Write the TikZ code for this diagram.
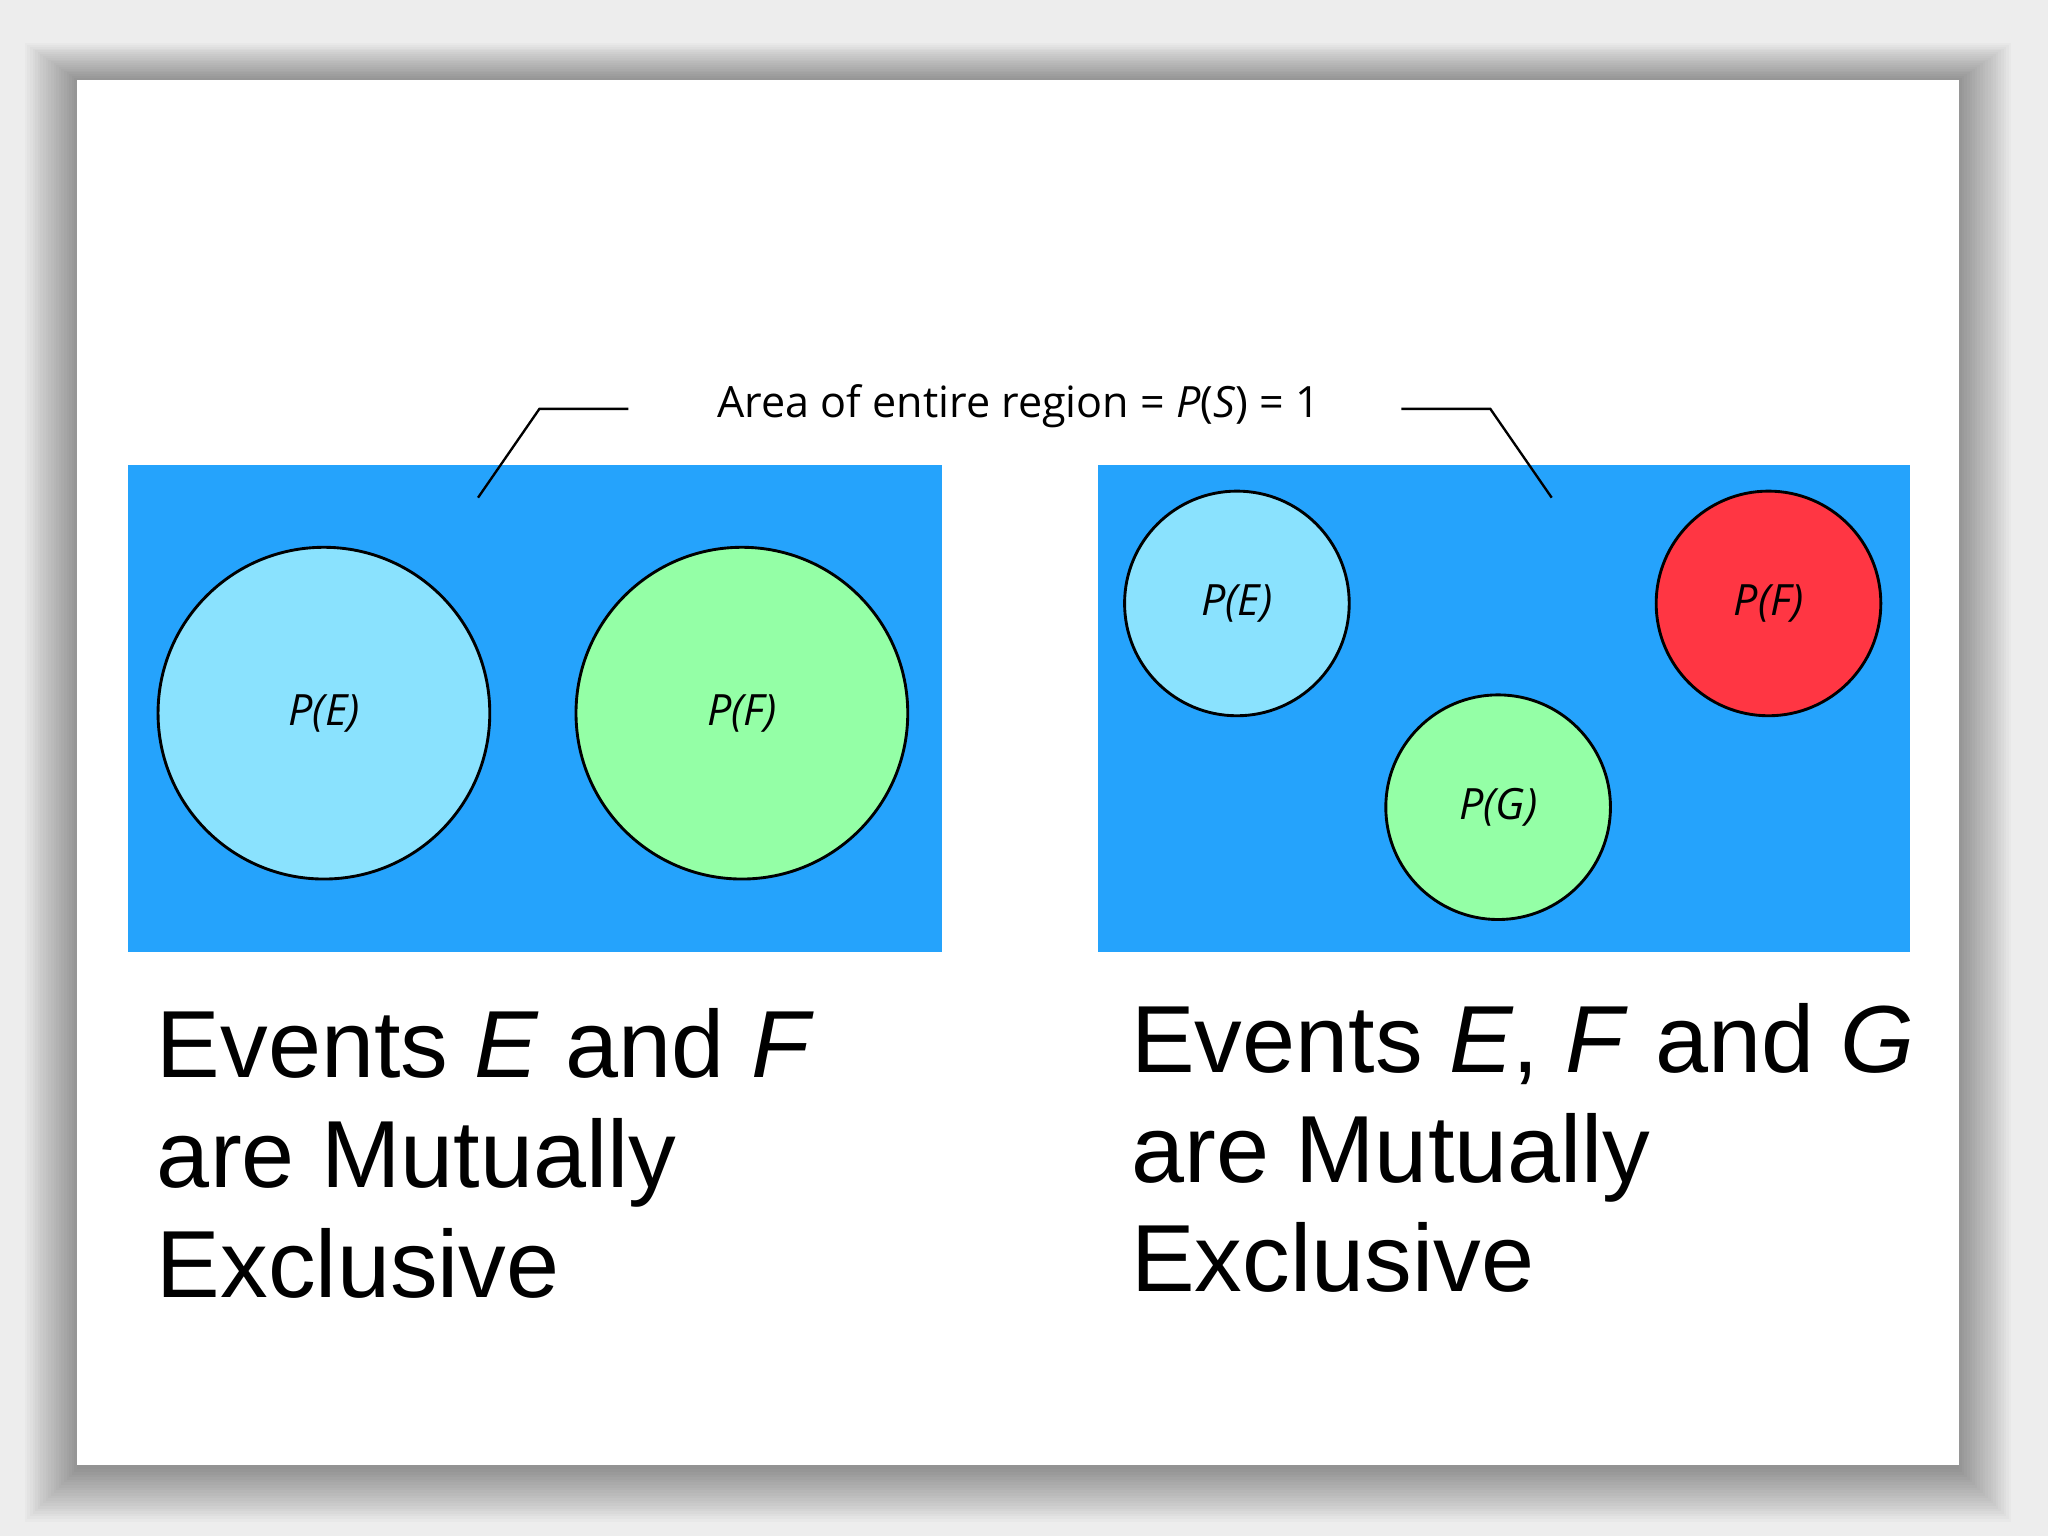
\documentclass[tikz,border=0pt]{standalone}
\usepackage{fontspec}
\setmainfont{Liberation Sans}
\newfontfamily\lblfont{Open Sans}
\begin{document}
\begin{tikzpicture}[x=1pt,y=-1pt,
  region/.style={fill=rblue,draw=none},
  ev/.style={circle,draw=black,line width=2.2pt,inner sep=0pt,font=\lblfont\itshape\fontsize{33}{36}\selectfont},
  big/.style={anchor=north west,align=left,font=\fontsize{73}{84}\selectfont},
  lead/.style={line width=1.8pt}]
\definecolor{rblue}{HTML}{25A3FC}
\definecolor{lblue}{HTML}{8AE2FE}
\definecolor{lgreen}{HTML}{94FFA6}
\definecolor{lred}{HTML}{FF3643}
\useasboundingbox (0,0) rectangle (1568,1176);
\fill[white!93!black] (0,0) rectangle (1568,1176);
\foreach \i in {0,2,...,40}{
  \fill[black,opacity=0.02] (59-\i,61-\i*0.7) rectangle (1500+\i,1125+\i);
}
\fill[white] (59,61) rectangle (1500,1122);
\fill[region] (98,356) rectangle (721,729);
\fill[region] (841,356) rectangle (1462,729);
\node[ev,fill=lblue,minimum size=254pt] (le) at (248,546) {P(E)};
\node[ev,fill=lgreen,minimum size=254pt] (lf) at (568,546) {P(F)};
\node[ev,fill=lblue,minimum size=172pt] (re) at (947,462) {P(E)};
\node[ev,fill=lred,minimum size=172pt] (rf) at (1354,462) {P(F)};
\node[ev,fill=lgreen,minimum size=172pt] (rg) at (1147,618) {P(G)};
\node[font=\lblfont\fontsize{33}{36}\selectfont,inner sep=0pt] (area) at (780,311) {Area of entire region = \textit{P}(\textit{S}) = 1};
\coordinate (a1) at (366,381);
\coordinate (a2) at (1188,381);
\draw[lead] (481,313) -- (413,313) -- (a1);
\draw[lead] (1073,313) -- (1141,313) -- (a2);
\node[big,inner sep=0pt] (t1) at (120,772) {Events \textit{E} and \textit{F}\\are Mutually\\Exclusive};
\node[big,inner sep=0pt] (t2) at (866,768) {Events \textit{E}, \textit{F} and \textit{G}\\are Mutually\\Exclusive};
\end{tikzpicture}
\end{document}
